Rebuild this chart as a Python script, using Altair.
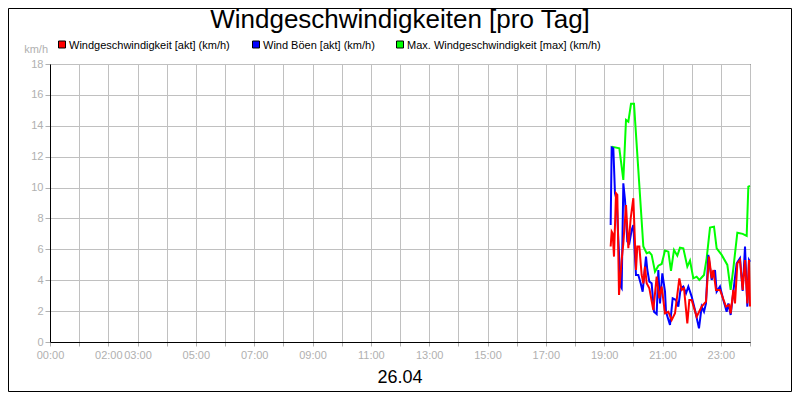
import json
import altair as alt
import pandas as pd

# ---------------- data ----------------
title_text = "Windgeschwindigkeiten [pro Tag]"
date_text = "26.04"
unit_text = "km/h"
series_names = [
    "Windgeschwindigkeit [akt] (km/h)",
    "Wind Böen [akt] (km/h)",
    "Max. Windgeschwindigkeit [max] (km/h)",
]
series_colors = ["#ff0000", "#0000ff", "#00ff00"]

x_tick_labels = ["00:00", "", "02:00", "03:00", "", "05:00", "", "07:00", "",
                 "09:00", "", "11:00", "", "13:00", "", "15:00", "", "17:00", "",
                 "19:00", "", "21:00", "", "23:00", ""]
y_ticks = [0, 2, 4, 6, 8, 10, 12, 14, 16, 18]

# time in hours of the day
red_t = [19.223, 19.257, 19.291, 19.337, 19.406, 19.451, 19.509, 19.6, 19.657, 19.749,
         19.829, 19.909, 20.0, 20.091, 20.137, 20.206, 20.286, 20.343, 20.4, 20.457,
         20.549, 20.686, 20.8, 20.891, 20.971, 21.086, 21.2, 21.314, 21.429, 21.577,
         21.657, 21.737, 21.851, 21.92, 22.0, 22.171, 22.343, 22.491, 22.594, 22.686,
         22.743, 22.834, 22.971, 23.177, 23.291, 23.337, 23.429, 23.486, 23.566, 23.657,
         23.749, 23.829, 23.909, 23.966, 24.0]
red_v = [6.18, 7.15, 7.04, 5.53, 9.63, 9.52, 3.04, 5.31, 6.39, 8.87,
         6.07, 8.01, 9.31, 4.66, 6.18, 6.18, 4.34, 3.8, 4.88, 3.8,
         3.48, 2.07, 4.23, 2.83, 3.59, 1.86, 1.96, 1.42, 1.86, 4.12,
         3.37, 3.48, 1.21, 2.72, 2.72, 1.64, 2.29, 2.61, 5.53, 4.12,
         4.66, 3.37, 3.37, 2.29, 2.40, 1.86, 3.37, 2.5, 5.09, 5.31,
         3.37, 5.31, 2.5, 5.31, 2.3]

blue_t = [19.223, 19.257, 19.314, 19.371, 19.429, 19.486, 19.566, 19.6, 19.657, 19.714,
          19.794, 19.863, 19.943, 20.0, 20.091, 20.171, 20.251, 20.32, 20.434, 20.48,
          20.549, 20.628, 20.709, 20.8, 20.857, 20.914, 20.994, 21.086, 21.12, 21.257,
          21.349, 21.463, 21.543, 21.623, 21.714, 21.806, 21.886, 22.0, 22.114, 22.251,
          22.343, 22.423, 22.491, 22.571, 22.686, 22.8, 22.857, 22.971, 23.086, 23.2,
          23.257, 23.337, 23.429, 23.543, 23.657, 23.749, 23.829, 23.909, 23.966, 24.0]
blue_v = [7.57, 12.6, 12.54, 9.63, 9.2, 6.61, 3.59, 3.48, 10.28, 9.2,
          6.5, 6.39, 7.25, 7.57, 4.34, 4.34, 3.8, 3.26, 5.53, 4.66,
          3.91, 3.8, 1.96, 1.81, 4.66, 2.5, 4.45, 3.26, 1.96, 1.1,
          2.83, 2.72, 2.29, 3.48, 3.59, 3.15, 3.59, 2.94, 2.07, 0.88,
          2.29, 1.96, 2.5, 5.64, 4.02, 4.66, 3.26, 3.59, 2.72, 1.96,
          2.5, 1.75, 3.26, 5.09, 5.42, 3.3, 6.18, 2.29, 5.31, 5.2]

green_t = [19.257, 19.52, 19.657, 19.749, 19.829, 19.92, 20.023, 20.343, 20.457, 20.549,
           20.628, 20.743, 20.857, 20.971, 21.086, 21.2, 21.291, 21.394, 21.508, 21.6,
           21.714, 21.851, 21.943, 22.057, 22.171, 22.263, 22.423, 22.514, 22.629, 22.766,
           22.857, 23.029, 23.223, 23.337, 23.429, 23.566, 23.749, 23.886, 23.943, 24.0]
green_v = [12.65, 12.54, 10.49, 14.38, 14.27, 15.42, 15.42, 6.18, 5.75, 5.81,
           5.64, 4.55, 4.94, 5.05, 5.92, 5.85, 4.6, 5.96, 5.59, 6.11,
           6.07, 4.88, 5.27, 4.12, 4.23, 4.02, 4.34, 5.42, 7.41, 7.47,
           6.07, 5.64, 4.99, 3.37, 4.77, 7.08, 7.0, 6.87, 10.06, 10.1]

# ---------------- tables ----------------
frames = []
for name, t, v, order in [(series_names[2], green_t, green_v, 0),
                          (series_names[1], blue_t, blue_v, 1),
                          (series_names[0], red_t, red_v, 2)]:
    frames.append(pd.DataFrame({"t": t, "v": v, "s": name, "o": order}))
df = pd.concat(frames, ignore_index=True)

FONT = "Liberation Sans"
GRAY = "#b0b0b0"
W, H = 700, 278

x_scale = alt.Scale(domain=[0, 24], nice=False, zero=False)
y_scale = alt.Scale(domain=[0, 18], nice=False)
color_scale = alt.Scale(domain=series_names, range=series_colors)

label_expr = json.dumps(x_tick_labels) + "[round(datum.value)]"

base_axes = alt.Chart(df).mark_line(strokeWidth=2, strokeJoin="miter").encode(
    x=alt.X("t:Q", scale=x_scale,
            axis=alt.Axis(values=list(range(25)), labelExpr=label_expr, title=None,
                          labelOverlap=False, labelFlush=False, tickSize=4,
                          labelPadding=3, grid=True)),
    y=alt.Y("v:Q", scale=y_scale,
            axis=alt.Axis(values=y_ticks, title=None, labelFlush=False,
                          labelOverlap=False, tickSize=5, labelPadding=2, grid=True)),
    color=alt.Color("s:N", scale=color_scale, legend=None),
    detail="o:N",
)

layers = [base_axes]

# title
layers.append(alt.Chart(pd.DataFrame({"txt": [title_text]})).mark_text(
    font=FONT, fontSize=26, color="black", align="center", baseline="alphabetic"
).encode(x=alt.value(350), y=alt.value(-36), text="txt:N"))

# date label
layers.append(alt.Chart(pd.DataFrame({"txt": [date_text]})).mark_text(
    font=FONT, fontSize=18, color="black", align="center", baseline="alphabetic"
).encode(x=alt.value(350), y=alt.value(319), text="txt:N"))

# unit label
layers.append(alt.Chart(pd.DataFrame({"txt": [unit_text]})).mark_text(
    font=FONT, fontSize=11, color=GRAY, align="right", baseline="alphabetic"
).encode(x=alt.value(-2), y=alt.value(-11), text="txt:N"))

# legend
legend_sq_x = [12, 206, 350]
for name, col, sx in zip(series_names, series_colors, legend_sq_x):
    d = pd.DataFrame({"txt": [name]})
    layers.append(alt.Chart(d).mark_square(
        size=49, color=col, opacity=1, stroke="black", strokeWidth=1
    ).encode(x=alt.value(sx), y=alt.value(-19.5)))
    layers.append(alt.Chart(d).mark_text(
        font=FONT, fontSize=11, color="black", align="left", baseline="alphabetic"
    ).encode(x=alt.value(sx + 7), y=alt.value(-15.5), text="txt:N"))

# outer frame
layers.append(alt.Chart(pd.DataFrame({"txt": ["frame"]})).mark_rect(
    fillOpacity=0, stroke="black", strokeWidth=1
).encode(x=alt.value(-41.5), x2=alt.value(741.5), y=alt.value(-55.5), y2=alt.value(327.5)))

chart = alt.layer(*layers).properties(
    width=W, height=H,
    autosize=alt.AutoSizeParams(type="none"),
    padding={"left": 42, "top": 56, "right": 42, "bottom": 50},
    background="white",
).configure_view(
    stroke="black", strokeWidth=1
).configure_axis(
    labelFont=FONT, labelFontSize=11, labelColor=GRAY,
    tickColor=GRAY, domainColor="black", domainWidth=1,
    gridColor="#c0c0c0", gridWidth=1, gridOpacity=1,
)

chart.save("out.html", embed_options={"renderer": "svg", "actions": False})
